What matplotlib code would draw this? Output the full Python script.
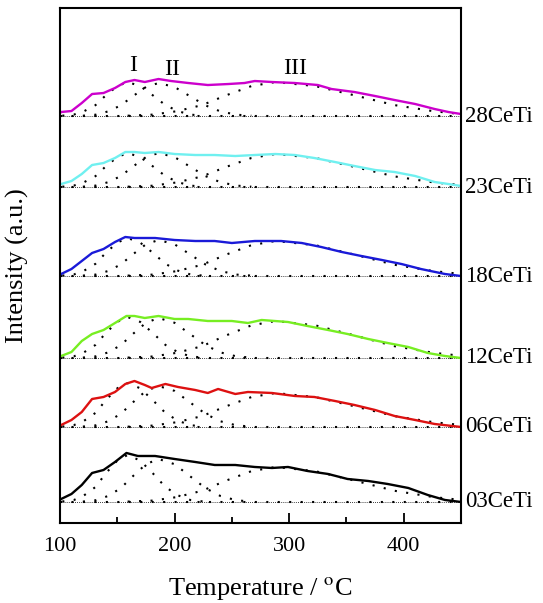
import matplotlib
matplotlib.use("Agg")
import matplotlib.pyplot as plt
import matplotlib.transforms as mtransforms

plt.rcParams['font.family'] = ['Liberation Serif', 'DejaVu Serif']
plt.rcParams['mathtext.fontset'] = 'stix'

samples = ['03CeTi', '06CeTi', '12CeTi', '18CeTi', '23CeTi', '28CeTi']
colors = ['black', '#dd1111', '#77ee22', '#1a1ad8', '#70f0f0', '#cc00cc']
offsets = [21, 96, 165, 247, 336, 407]

# measured TPD curves (temperature, intensity above baseline)
t_03 = [100, 101, 110, 119, 128, 138, 148, 158, 168, 183, 200, 218, 235, 253, 270, 285, 299, 316, 334, 351, 369, 386, 404, 421, 436, 450]
y_03 = [2, 3, 8, 17, 29, 32, 40, 49, 46, 46, 43, 40, 37, 37, 35, 34, 35, 31, 28, 23, 21, 18, 14, 7, 2, 0]
t_06 = [100, 101, 110, 119, 128, 138, 148, 157, 165, 174, 180, 192, 203, 218, 229, 238, 253, 264, 285, 305, 322, 340, 357, 375, 392, 410, 427, 450]
y_06 = [1, 2, 7, 15, 28, 30, 35, 43, 46, 42, 39, 43, 40, 37, 34, 38, 33, 35, 34, 31, 30, 26, 22, 17, 11, 7, 3, 0]
t_12 = [100, 101, 110, 119, 128, 138, 148, 158, 165, 174, 186, 200, 212, 229, 250, 264, 276, 299, 316, 334, 351, 369, 386, 404, 421, 436, 450]
y_12 = [1, 2, 6, 17, 24, 28, 35, 42, 42, 40, 42, 39, 39, 37, 37, 35, 38, 36, 32, 28, 24, 19, 15, 11, 5, 2, 0]
t_18 = [100, 101, 110, 119, 128, 138, 148, 157, 165, 183, 200, 218, 235, 250, 270, 293, 311, 328, 346, 363, 381, 398, 415, 436, 450]
y_18 = [1, 2, 7, 15, 23, 27, 34, 39, 38, 38, 36, 35, 35, 33, 35, 35, 33, 29, 24, 20, 16, 12, 7, 2, 0]
t_23 = [100, 101, 110, 119, 128, 138, 148, 157, 165, 174, 186, 200, 218, 235, 253, 270, 288, 305, 322, 340, 357, 375, 392, 410, 427, 439, 450]
y_23 = [2, 3, 6, 13, 22, 24, 29, 35, 35, 34, 35, 33, 32, 32, 31, 32, 33, 32, 29, 25, 21, 17, 15, 11, 5, 3, 1]
t_28 = [100, 101, 110, 119, 128, 138, 148, 157, 165, 174, 186, 197, 212, 229, 247, 261, 270, 285, 305, 325, 337, 357, 375, 392, 410, 427, 439, 450]
y_28 = [3, 4, 5, 13, 22, 23, 28, 34, 36, 34, 37, 35, 33, 31, 32, 33, 35, 34, 33, 31, 27, 24, 20, 16, 12, 7, 4, 2]
curves_t = [t_03, t_06, t_12, t_18, t_23, t_28]
curves_y = [y_03, y_06, y_12, y_18, y_23, y_28]

# fitted peaks I, II, III
t_p1 = [102, 112, 121, 131, 140, 150, 159, 170, 181, 192, 203, 214, 225]
t_p2 = [120, 131, 142, 153, 164, 175, 186, 200, 213, 227, 240, 254, 267]
t_p3 = [159, 181, 202, 224, 245, 267, 288, 323, 357, 392, 426, 450]
p1 = [
    [0.5, 1.9, 6.6, 15.0, 28.7, 41.4, 47, 41.4, 28.7, 15.0, 6.6, 1.9, 0.5],
    [0.4, 1.8, 6.2, 14.1, 26.8, 38.7, 44, 38.7, 26.8, 14.1, 6.2, 1.8, 0.4],
    [0.4, 1.6, 5.7, 13.1, 25.0, 36.1, 41, 36.1, 25.0, 13.1, 5.7, 1.6, 0.4],
    [0.4, 1.5, 5.3, 12.2, 23.2, 33.4, 38, 33.4, 23.2, 12.2, 5.3, 1.5, 0.4],
    [0.3, 1.4, 4.8, 10.9, 20.7, 29.9, 34, 29.9, 20.7, 10.9, 4.8, 1.4, 0.3],
    [0.3, 1.4, 4.8, 10.9, 20.7, 29.9, 34, 29.9, 20.7, 10.9, 4.8, 1.4, 0.3],
]
p2 = [
    [0.4, 1.7, 6.0, 13.8, 26.2, 37.8, 43, 37.8, 26.2, 13.8, 6.0, 1.7, 0.4],
    [0.4, 1.6, 5.7, 13.1, 25.0, 36.1, 41, 36.1, 25.0, 13.1, 5.7, 1.6, 0.4],
    [0.4, 1.6, 5.6, 12.8, 24.4, 35.2, 40, 35.2, 24.4, 12.8, 5.6, 1.6, 0.4],
    [0.4, 1.4, 5.0, 11.5, 22.0, 31.7, 36, 31.7, 22.0, 11.5, 5.0, 1.4, 0.4],
    [0.3, 1.4, 4.8, 10.9, 20.7, 29.9, 34, 29.9, 20.7, 10.9, 4.8, 1.4, 0.3],
    [0.3, 1.3, 4.6, 10.6, 20.1, 29.0, 33, 29.0, 20.1, 10.6, 4.6, 1.3, 0.3],
]
p3 = [
    [0.4, 1.4, 4.9, 11.2, 21.4, 30.8, 35, 30.8, 21.4, 11.2, 4.9, 2.1],
    [0.3, 1.4, 4.8, 10.9, 20.7, 29.9, 34, 29.9, 20.7, 10.9, 4.8, 2.0],
    [0.4, 1.5, 5.2, 11.8, 22.6, 32.6, 37, 32.6, 22.6, 11.8, 5.2, 2.2],
    [0.4, 1.4, 4.9, 11.2, 21.4, 30.8, 35, 30.8, 21.4, 11.2, 4.9, 2.1],
    [0.3, 1.3, 4.6, 10.6, 20.1, 29.0, 33, 29.0, 20.1, 10.6, 4.6, 2.0],
    [0.3, 1.4, 4.8, 10.9, 20.7, 29.9, 34, 29.9, 20.7, 10.9, 4.8, 2.0],
]

peak_names = ['I', 'II', 'III']
peak_label_t = [164, 198, 305]
peak_label_y = [458, 454, 455]

fig = plt.figure(figsize=(5.43, 6.03), dpi=100)
ax = fig.add_axes([0.1105, 0.1327, 0.7385, 0.854])

dots = (0, (1, 4.5))
for i in range(len(samples)):
    off = offsets[i]
    # baseline
    ax.plot([100, 450], [off, off], color='black', lw=0.6, linestyle=(0, (1, 1.5)))
    ax.plot([100, 450], [off, off], color='black', lw=1.5, linestyle=dots)
    for tt, yy in [(t_p1, p1[i]), (t_p2, p2[i]), (t_p3, p3[i])]:
        ax.plot(tt, [v + off for v in yy], color='black', lw=1.5, linestyle=dots)
    ax.plot(curves_t[i], [v + off for v in curves_y[i]], color=colors[i], lw=1.7)

trans = mtransforms.blended_transform_factory(ax.transAxes, ax.transData)
for i in range(len(samples)):
    ax.text(1.01, offsets[i], samples[i], transform=trans, fontsize=16.5,
            va='center', ha='left')

for name, tx, ty in zip(peak_names, peak_label_t, peak_label_y):
    ax.text(tx, ty, name, fontsize=17, ha='center', va='center')

ax.set_xlim(100, 450)
ax.set_ylim(0, 515)
ax.set_xticks([100, 200, 300, 400])
ax.set_xticks([150, 250, 350], minor=True)
ax.set_yticks([])
ax.tick_params(axis='x', which='major', direction='in', length=7, width=1.3,
               labelsize=16, pad=10)
ax.tick_params(axis='x', which='minor', direction='in', length=4.5, width=1.3)
for s in ax.spines.values():
    s.set_linewidth(1.5)

ax.set_xlabel('Temperature / $^{\\mathrm{o}}$C', fontsize=19, labelpad=14)
ax.set_ylabel('Intensity (a.u.)', fontsize=19, labelpad=22)

fig.savefig('out.png', dpi=100)
